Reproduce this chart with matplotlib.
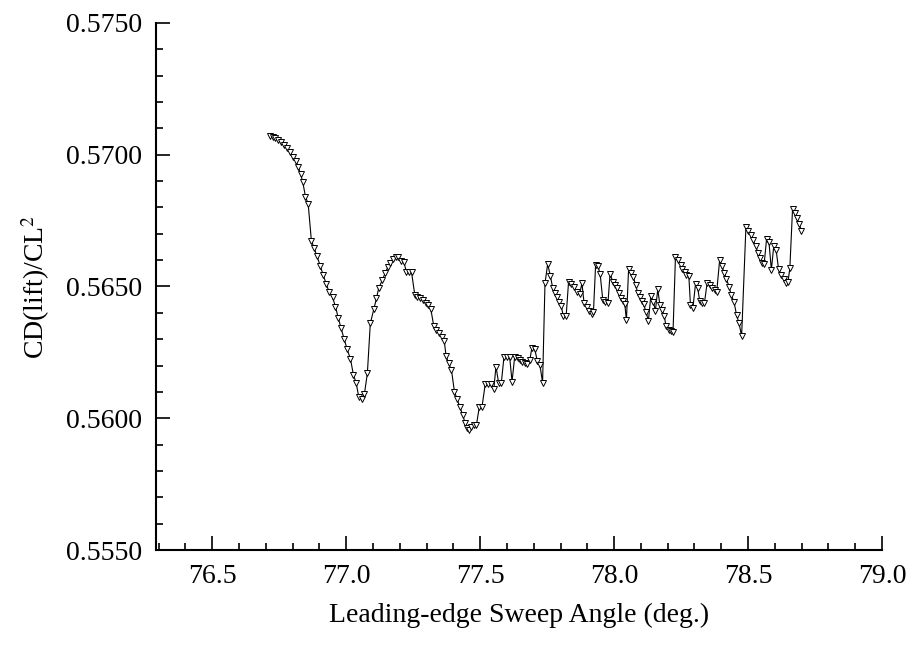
import matplotlib
matplotlib.use('Agg')
import matplotlib.pyplot as plt
from matplotlib.ticker import MultipleLocator, FormatStrFormatter

# 读取的数据点（前缘后掠角, 升致阻力因子）
sweep = [
    76.716, 76.726, 76.736, 76.746, 76.757, 76.767, 76.778, 76.789, 76.800, 76.812,
    76.821, 76.830, 76.838, 76.848, 76.858, 76.870, 76.880, 76.891, 76.903, 76.914,
    76.925, 76.936, 76.949, 76.960, 76.970, 76.981, 76.992, 77.003, 77.016, 77.027,
    77.037, 77.047, 77.058, 77.068, 77.079, 77.090, 77.103, 77.113, 77.121, 77.135,
    77.145, 77.155, 77.165, 77.176, 77.185, 77.195, 77.205, 77.215, 77.225, 77.235,
    77.244, 77.256, 77.266, 77.276, 77.285, 77.296, 77.306, 77.316, 77.327, 77.337,
    77.347, 77.357, 77.366, 77.373, 77.382, 77.393, 77.404, 77.414, 77.424, 77.435,
    77.444, 77.451, 77.458, 77.466, 77.476, 77.486, 77.497, 77.507, 77.519, 77.529,
    77.539, 77.551, 77.559, 77.569, 77.579, 77.589, 77.600, 77.610, 77.619, 77.629,
    77.640, 77.648, 77.657, 77.667, 77.676, 77.685, 77.693, 77.704, 77.713, 77.723,
    77.733, 77.742, 77.752, 77.762, 77.771, 77.780, 77.787, 77.796, 77.803, 77.810,
    77.821, 77.830, 77.840, 77.850, 77.860, 77.871, 77.880, 77.888, 77.898, 77.907,
    77.916, 77.923, 77.931, 77.940, 77.948, 77.958, 77.967, 77.977, 77.985, 77.995,
    78.004, 78.011, 78.018, 78.025, 78.032, 78.040, 78.046, 78.054, 78.062, 78.072,
    78.080, 78.088, 78.095, 78.103, 78.110, 78.119, 78.128, 78.137, 78.147, 78.154,
    78.163, 78.171, 78.179, 78.187, 78.194, 78.204, 78.213, 78.220, 78.229, 78.239,
    78.248, 78.255, 78.263, 78.270, 78.279, 78.285, 78.294, 78.304, 78.312, 78.320,
    78.328, 78.337, 78.347, 78.357, 78.367, 78.376, 78.383, 78.394, 78.402, 78.411,
    78.419, 78.429, 78.437, 78.448, 78.457, 78.466, 78.476, 78.492, 78.501, 78.510,
    78.519, 78.529, 78.537, 78.544, 78.552, 78.560, 78.569, 78.578, 78.587, 78.596,
    78.605, 78.614, 78.624, 78.633, 78.641, 78.649, 78.656, 78.666, 78.674, 78.681,
    78.691, 78.699,
]

cd_cl2 = [
    0.57072, 0.57069, 0.57062, 0.57056, 0.57047, 0.57037, 0.57025, 0.57009, 0.56993, 0.56976,
    0.56954, 0.56927, 0.56895, 0.56841, 0.56814, 0.56674, 0.56647, 0.56615, 0.56579, 0.56544,
    0.56511, 0.56480, 0.56459, 0.56423, 0.56382, 0.56341, 0.56302, 0.56263, 0.56225, 0.56164,
    0.56135, 0.56080, 0.56072, 0.56092, 0.56171, 0.56360, 0.56414, 0.56455, 0.56493, 0.56525,
    0.56550, 0.56573, 0.56590, 0.56603, 0.56613, 0.56613, 0.56598, 0.56594, 0.56554, 0.56554,
    0.56554, 0.56468, 0.56461, 0.56455, 0.56447, 0.56439, 0.56428, 0.56413, 0.56349, 0.56336,
    0.56322, 0.56309, 0.56292, 0.56236, 0.56209, 0.56182, 0.56101, 0.56072, 0.56044, 0.56012,
    0.55981, 0.55964, 0.55954, 0.55968, 0.55974, 0.55974, 0.56044, 0.56044, 0.56130, 0.56130,
    0.56130, 0.56111, 0.56196, 0.56134, 0.56134, 0.56234, 0.56234, 0.56234, 0.56139, 0.56234,
    0.56228, 0.56221, 0.56215, 0.56209, 0.56206, 0.56220, 0.56266, 0.56262, 0.56218, 0.56203,
    0.56135, 0.56512, 0.56585, 0.56541, 0.56493, 0.56474, 0.56459, 0.56442, 0.56426, 0.56388,
    0.56388, 0.56518, 0.56510, 0.56499, 0.56478, 0.56470, 0.56512, 0.56436, 0.56422, 0.56406,
    0.56394, 0.56405, 0.56583, 0.56576, 0.56546, 0.56447, 0.56440, 0.56437, 0.56549, 0.56518,
    0.56507, 0.56493, 0.56477, 0.56456, 0.56445, 0.56432, 0.56371, 0.56565, 0.56553, 0.56536,
    0.56506, 0.56477, 0.56462, 0.56446, 0.56432, 0.56405, 0.56369, 0.56464, 0.56442, 0.56407,
    0.56489, 0.56430, 0.56411, 0.56388, 0.56349, 0.56336, 0.56330, 0.56329, 0.56612, 0.56599,
    0.56582, 0.56565, 0.56554, 0.56542, 0.56539, 0.56430, 0.56417, 0.56511, 0.56493, 0.56444,
    0.56436, 0.56436, 0.56512, 0.56505, 0.56496, 0.56487, 0.56480, 0.56601, 0.56578, 0.56552,
    0.56528, 0.56500, 0.56468, 0.56440, 0.56392, 0.56362, 0.56312, 0.56724, 0.56709, 0.56695,
    0.56675, 0.56652, 0.56629, 0.56608, 0.56591, 0.56585, 0.56679, 0.56669, 0.56563, 0.56654,
    0.56637, 0.56565, 0.56544, 0.56527, 0.56512, 0.56518, 0.56569, 0.56793, 0.56780, 0.56759,
    0.56737, 0.56712,
]

plt.rcParams['font.family'] = ['Liberation Serif', 'DejaVu Serif']
plt.rcParams['mathtext.fontset'] = 'stix'

fig = plt.figure(figsize=(9.16, 6.47), dpi=100)
ax = fig.add_axes([156 / 916, 97 / 647, 726 / 916, 527 / 647])

# 折线 + 空心倒三角
ax.plot(sweep, cd_cl2, color='black', linewidth=0.8,
        marker='v', markersize=5, markerfacecolor='white',
        markeredgecolor='black', markeredgewidth=0.7)

ax.set_xlim(76.29, 79.0)
ax.set_ylim(0.5550, 0.5750)

ax.xaxis.set_major_locator(MultipleLocator(0.5))
ax.xaxis.set_minor_locator(MultipleLocator(0.1))
ax.yaxis.set_major_locator(MultipleLocator(0.005))
ax.yaxis.set_minor_locator(MultipleLocator(0.001))
ax.xaxis.set_major_formatter(FormatStrFormatter('%.1f'))
ax.yaxis.set_major_formatter(FormatStrFormatter('%.4f'))

ax.spines['top'].set_visible(False)
ax.spines['right'].set_visible(False)
ax.spines['left'].set_linewidth(1.5)
ax.spines['bottom'].set_linewidth(1.5)

ax.tick_params(which='both', direction='in', top=False, right=False,
               labelsize=20, width=1.2)
ax.tick_params(which='major', length=10, pad=10)
ax.tick_params(which='minor', length=5)

ax.set_xlabel('Leading-edge Sweep Angle (deg.)', fontsize=20, labelpad=10)
ax.set_ylabel(r'CD(lift)/CL$^2$', fontsize=20, labelpad=10)

fig.savefig('out.png', dpi=100)
